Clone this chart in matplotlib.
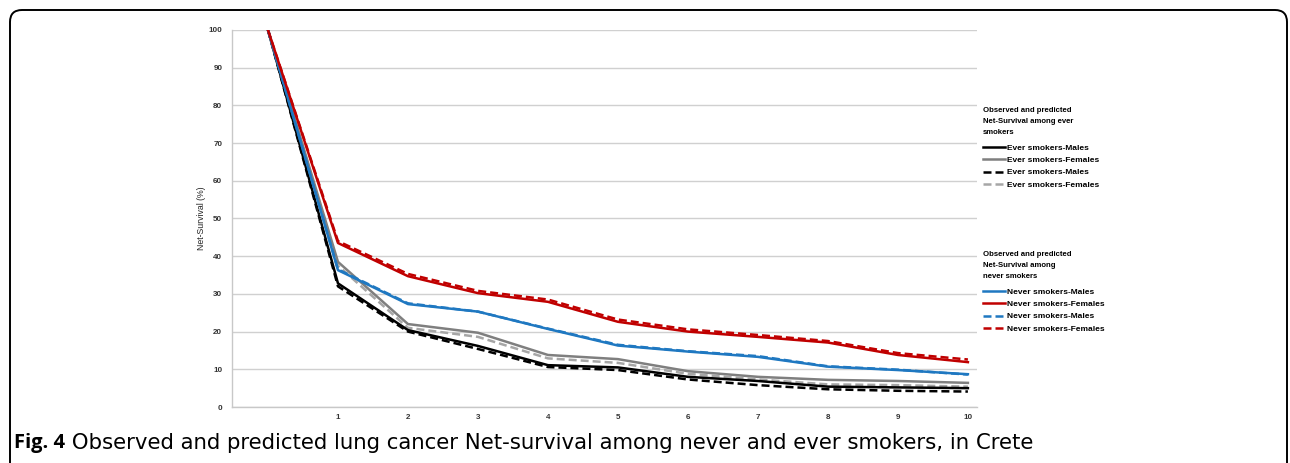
import matplotlib
matplotlib.use("Agg")
import matplotlib.pyplot as plt
from matplotlib.patches import FancyBboxPatch
from matplotlib.lines import Line2D

# years since diagnosis
years = [0, 1, 2, 3, 4, 5, 6, 7, 8, 9, 10]
year_labels = ["", "1", "2", "3", "4", "5", "6", "7", "8", "9", "10"]

# observed
ever_males = [100, 32.8, 20.4, 16.2, 11.1, 10.5, 8.0, 6.9, 5.4, 5.2, 5.0]
ever_females = [100, 38.5, 22.0, 19.7, 13.8, 12.7, 9.5, 8.0, 7.2, 6.9, 6.4]
never_males = [100, 36.3, 27.3, 25.3, 20.7, 16.3, 14.7, 13.3, 10.7, 9.8, 8.7]
never_females = [100, 43.5, 34.7, 30.2, 27.9, 22.6, 20.0, 18.6, 17.1, 13.8, 11.9]

# predicted
ever_males_pred = [100, 32.0, 20.0, 15.4, 10.6, 9.8, 7.3, 5.8, 4.7, 4.3, 4.1]
ever_females_pred = [100, 37.5, 21.0, 18.6, 12.9, 11.7, 8.8, 7.3, 6.0, 5.8, 5.4]
never_males_pred = [100, 36.5, 27.5, 25.3, 20.8, 16.5, 14.8, 13.5, 10.8, 9.9, 8.6]
never_females_pred = [100, 44.0, 35.3, 30.8, 28.5, 23.2, 20.6, 19.1, 17.5, 14.3, 12.6]

y_ticks = [0, 10, 20, 30, 40, 50, 60, 70, 80, 90, 100]

BLACK = "#000000"
GRAY = "#7f7f7f"
LGRAY = "#a6a6a6"
BLUE = "#1f78c1"
RED = "#c00000"
FONT = "Liberation Sans"

W, H = 1290, 463
fig = plt.figure(figsize=(W / 100, H / 100), dpi=100)

# rounded frame around the figure panel (open at the bottom edge of the image)
frame = FancyBboxPatch((0.10, -0.40), 12.77, 4.93,
                       boxstyle="round,pad=0,rounding_size=0.12",
                       transform=fig.dpi_scale_trans, fill=False,
                       edgecolor="black", linewidth=1.4)
fig.patches.append(frame)

ax = fig.add_axes([232 / W, 56 / H, 745 / W, 377 / H])

dash_k = (0, (3.2, 1.6))
ax.plot(years, ever_males_pred, color=BLACK, lw=1.8, ls=dash_k, zorder=3)
ax.plot(years, ever_females_pred, color=LGRAY, lw=1.8, ls=dash_k, zorder=3)
ax.plot(years, ever_males, color=BLACK, lw=1.8, zorder=3)
ax.plot(years, ever_females, color=GRAY, lw=1.8, zorder=3)
ax.plot(years, never_males_pred, color=BLUE, lw=1.8, ls=dash_k, zorder=3)
ax.plot(years, never_females_pred, color=RED, lw=1.8, ls=dash_k, zorder=3)
ax.plot(years, never_males, color=BLUE, lw=1.8, zorder=4)
ax.plot(years, never_females, color=RED, lw=1.8, zorder=4)

ax.set_xlim(-0.514, 10.13)
ax.set_ylim(0, 100)
ax.set_yticks(y_ticks)
ax.set_xticks(years)
ax.set_xticklabels(year_labels)
ax.tick_params(axis="both", length=0, labelsize=5.8, labelcolor="#333333")
for lab in ax.get_xticklabels() + ax.get_yticklabels():
    lab.set_fontweight("bold")
    lab.set_family(FONT)
ax.tick_params(axis="y", pad=7)
ax.tick_params(axis="x", pad=5)
ax.grid(axis="y", color="#d0d0d0", lw=1.0)
ax.set_axisbelow(True)
for s in ["top", "right"]:
    ax.spines[s].set_visible(False)
ax.spines["left"].set_color("#c8c8c8")
ax.spines["bottom"].set_color("#c8c8c8")
ax.spines["left"].set_linewidth(1.0)
ax.spines["bottom"].set_linewidth(1.0)
ax.set_ylabel("Net-Survival (%)", fontsize=6.3, color="#222222", labelpad=1.5,
              family=FONT)

# legends
def make_legend(handles, labels, title, y_top):
    leg = fig.legend(handles, labels, title=title, loc="upper left",
                     bbox_to_anchor=(983 / W, 1 - y_top / H), frameon=False,
                     prop={"size": 6.0, "weight": "bold", "family": FONT},
                     title_fontproperties={"size": 5.6, "weight": "bold",
                                           "family": FONT},
                     handlelength=2.6, handletextpad=0.25, labelspacing=0.55,
                     borderpad=0, borderaxespad=0, alignment="left")
    leg.get_title().set_linespacing(1.75)
    leg._legend_box.sep = 6
    return leg

ever_handles = [Line2D([], [], color=BLACK, lw=1.8),
                Line2D([], [], color=GRAY, lw=1.8),
                Line2D([], [], color=BLACK, lw=1.8, ls=dash_k),
                Line2D([], [], color=LGRAY, lw=1.8, ls=dash_k)]
ever_labels = ["Ever smokers-Males", "Ever smokers-Females",
               "Ever smokers-Males", "Ever smokers-Females"]
never_handles = [Line2D([], [], color=BLUE, lw=1.8),
                 Line2D([], [], color=RED, lw=1.8),
                 Line2D([], [], color=BLUE, lw=1.8, ls=dash_k),
                 Line2D([], [], color=RED, lw=1.8, ls=dash_k)]
never_labels = ["Never smokers-Males", "Never smokers-Females",
                "Never smokers-Males", "Never smokers-Females"]

leg1 = make_legend(ever_handles, ever_labels,
                   "Observed and predicted\nNet-Survival among ever\nsmokers", 107)
leg2 = make_legend(never_handles, never_labels,
                   "Observed and predicted\nNet-Survival among\nnever smokers", 251)

# caption
t1 = fig.text(14 / W, 1 - 448 / H, "Fig. 4", fontsize=14.5, fontweight="bold",
              family="Open Sans", va="baseline")
ann = ax.annotate(" Observed and predicted lung cancer Net-survival among never and ever smokers, in Crete",
                  xy=(1, 0), xycoords=t1, va="bottom", ha="left",
                  fontsize=15.3, family="DejaVu Sans", annotation_clip=False)

fig.savefig("out.png", dpi=100)
